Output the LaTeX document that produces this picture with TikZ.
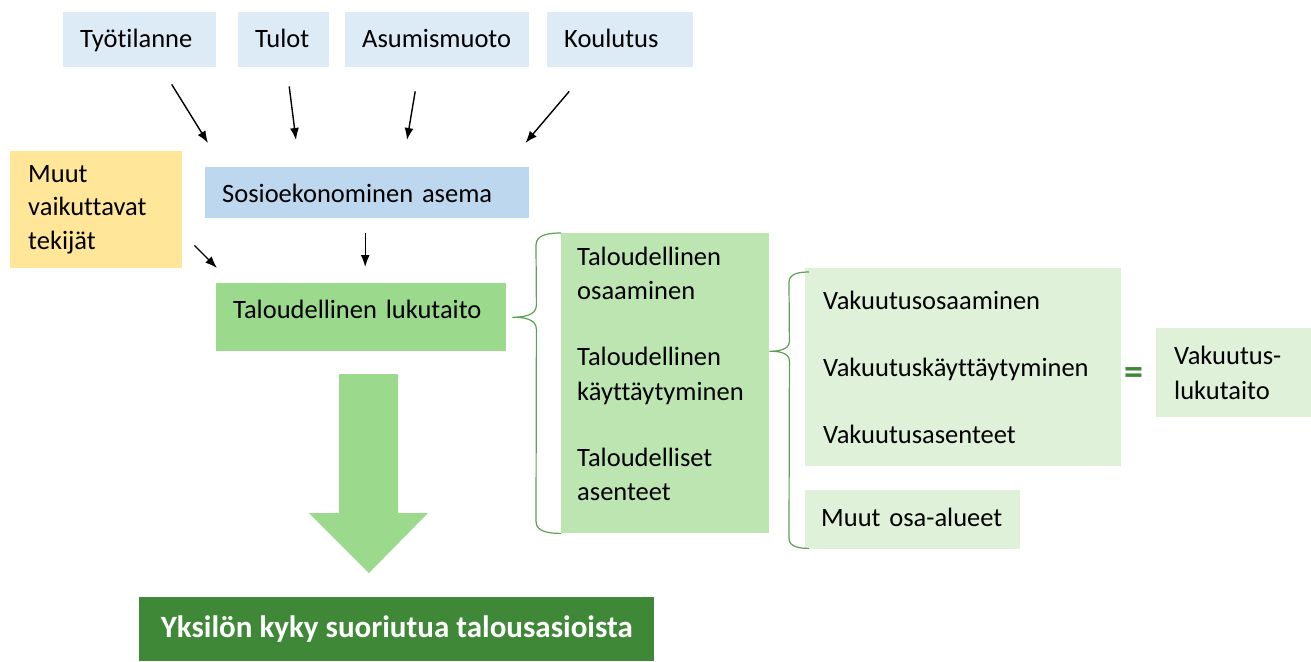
\documentclass[tikz,border=0pt]{standalone}
\usepackage{fontspec}
\setmainfont{Carlito}[Ligatures=NoCommon]
\usetikzlibrary{arrows.meta}

\definecolor{ylasin}{RGB}{221,235,247}
\definecolor{sininen}{RGB}{189,215,238}
\definecolor{keltainen}{RGB}{255,230,153}
\definecolor{vihrea}{RGB}{155,217,141}
\definecolor{vihrea2}{RGB}{188,229,178}
\definecolor{vihrea3}{RGB}{224,241,218}
\definecolor{tumma}{RGB}{62,136,55}
\definecolor{sulkuvihr}{RGB}{92,160,82}
\hyphenpenalty=10000

\begin{document}
\begin{tikzpicture}[x=1pt, y=-1pt, >={Latex[length=12pt,width=9pt]},
  font=\fontsize{26.5}{34.5}\selectfont,
  laatikko/.style={anchor=north west, inner xsep=17pt, inner ysep=0pt, align=left},
  ylarivi/.style={laatikko, fill=ylasin, text height=35pt, text depth=20pt},
  nuoli/.style={->, line width=1.4pt},
  sulku/.style={draw=sulkuvihr, line width=1.2pt}]
\useasboundingbox (0,0) rectangle (1311,661);

% ylarivin tekijat
\node[ylarivi, text width=119pt] (tyo) at (63,12) {Työtilanne};
\node[ylarivi, text width=57pt] (tulot) at (238,12) {Tulot};
\node[ylarivi, text width=150pt] (asu) at (345,12) {Asumismuoto};
\node[ylarivi, text width=112pt] (kou) at (547,12) {Koulutus};

% muut tekijat ja sosioekonominen asema
\node[laatikko, fill=keltainen, inner xsep=18pt, text width=136pt, minimum height=117pt,
  font=\fontsize{26.5}{33.5}\selectfont] (muut) at (10,151) {Muut\\vaikuttavat\\tekijät};
\node[laatikko, fill=sininen, text width=290pt, text height=35pt, text depth=16pt] (sosio) at (205,167) {Sosioekonominen asema};

% taloudellinen lukutaito ja osa-alueet
\node[laatikko, fill=vihrea, text width=256pt, text height=35pt, text depth=33pt] (talo) at (216,283) {Taloudellinen lukutaito};
\node[laatikko, fill=vihrea2, inner xsep=16pt, text width=176pt, minimum height=300pt] (laji) at (561,233)
  {Taloudellinen\\osaaminen\\[31.5pt]Taloudellinen\\käyttäytyminen\\[31.5pt]Taloudelliset\\asenteet\\[-15.5pt]\mbox{}};
\node[laatikko, fill=vihrea3, inner xsep=18pt, text width=280pt, minimum height=198pt] (vak) at (805,268)
  {Vakuutusosaaminen\\[32.5pt]Vakuutuskäyttäytyminen\\[32.5pt]Vakuutusasenteet};
\node[laatikko, fill=vihrea3, inner xsep=16pt, text width=183pt, text height=36pt, text depth=23pt] (osa) at (805,490) {Muut osa-alueet};
\node[laatikko, fill=vihrea3, inner xsep=18pt, text width=119pt, minimum height=89pt] (vlt) at (1156,328) {Vakuutus-\\lukutaito};
\node[font=\fontsize{38}{38}\selectfont\bfseries, text=tumma] (yht) at (1134,376) {=};

% lopputulos
\node[anchor=north west, fill=tumma, text=white, minimum width=515pt, inner sep=0pt,
  text height=40pt, text depth=24pt, font=\fontsize{31}{34}\selectfont\bfseries] (yks) at (139,597)
  {Yksilön kyky suoriutua talousasioista};

% nuolet
\draw[nuoli] ([xshift=32pt,yshift=-17pt]tyo.south) -- ([xshift=3pt,yshift=24pt]sosio.north west);
\draw[nuoli] ([xshift=5.5pt,yshift=-19pt]tulot.south) -- ([xshift=91pt,yshift=27pt]sosio.north west);
\draw[nuoli] ([xshift=-22pt,yshift=-24pt]asu.south) -- ([xshift=202pt,yshift=27pt]sosio.north west);
\draw[nuoli] ([xshift=-51pt,yshift=-24pt]kou.south) -- ([xshift=-4pt,yshift=24pt]sosio.north east);
\draw[nuoli] ([xshift=12pt,yshift=23pt]muut.south east) -- ([xshift=1pt,yshift=15pt]talo.north west);
\draw[nuoli] ([xshift=-2pt,yshift=-15pt]sosio.south) -- ([xshift=4pt,yshift=16pt]talo.north);

% iso nuoli
\fill[vihrea] (339,374) -- (398,374) -- (398,513) -- (428,513) -- (369,573) -- (309,513) -- (339,513) -- cycle;

% aaltosulut
\coordinate (k1) at ([xshift=6pt]talo.east);
\draw[sulku] (laji.north west) to[out=180,in=90] ([xshift=-25pt,yshift=-12pt]laji.north west)
  -- ([xshift=24pt,yshift=12pt]k1) to[out=-90,in=0] (k1) to[out=0,in=90] ([xshift=24pt,yshift=-12pt]k1)
  -- ([xshift=-25pt,yshift=12pt]laji.south west) to[out=-90,in=180] (laji.south west);
\coordinate (k2) at ([yshift=32pt]laji.east);
\coordinate (p2a) at ([xshift=4pt,yshift=-4pt]vak.north west);
\coordinate (p2b) at ([xshift=4pt,yshift=1pt]osa.south west);
\draw[sulku] (p2a) to[out=180,in=90] ([xshift=-20pt,yshift=-10pt]p2a)
  -- ([xshift=20pt,yshift=10pt]k2) to[out=-90,in=0] (k2) to[out=0,in=90] ([xshift=20pt,yshift=-10pt]k2)
  -- ([xshift=-20pt,yshift=10pt]p2b) to[out=-90,in=180] (p2b);
\end{tikzpicture}
\end{document}
